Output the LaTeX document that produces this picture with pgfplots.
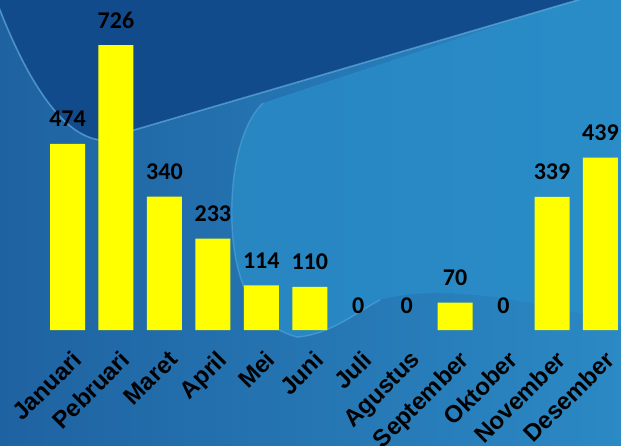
\documentclass[border=0pt]{standalone}
\usepackage{pgfplots}
\pgfplotsset{compat=1.18}
\usepackage{fontspec}
\setmainfont{Liberation Sans}
\newfontfamily\calib{Carlito}

\definecolor{bgleft}{HTML}{1F62A1}
\definecolor{bgright}{HTML}{2B89C4}
\definecolor{darkreg}{HTML}{124B8B}
\definecolor{winreg}{HTML}{2A8FCA}
\definecolor{glow}{HTML}{6DB9E8}
\definecolor{baryellow}{HTML}{FFFF00}

\begin{document}
\begin{tikzpicture}[x=1pt,y=1pt]
\begin{scope}
\clip (0,0) rectangle (621,445);
% background
\shade[left color=bgleft, right color=bgright] (0,0) rectangle (621,445);
% lighter window
\fill[winreg, opacity=0.7] (263,342) .. controls (240,320) and (230,270) .. (232,220)
    .. controls (234,170) and (250,120) .. (297,108)
    .. controls (330,110) and (360,135) .. (380,145)
    .. controls (430,160) and (520,150) .. (621,120) -- (621,450) -- (590,450) -- cycle;
% dark top-left region
\fill[darkreg] (-2,440) .. controls (25,370) and (60,310) .. (100,305) -- (595,450) -- (-2,450) -- cycle;
% light edges
\draw[glow, opacity=0.6, line width=1.6pt] (-2,440) .. controls (25,370) and (60,310) .. (100,305) -- (595,450);
\draw[glow, opacity=0.4, line width=1.4pt] (263,342) .. controls (240,320) and (230,270) .. (232,220)
    .. controls (234,170) and (250,120) .. (297,108)
    .. controls (330,110) and (360,135) .. (380,145);
\end{scope}
\useasboundingbox (0,0) rectangle (621,445);
\begin{axis}[
    at={(43.3pt,115pt)}, anchor=south west,
    scale only axis,
    width=581.4pt, height=314pt,
    xmin=-0.5, xmax=11.5, ymin=0, ymax=800,
    enlargelimits=false,
    ybar, bar width=35pt, bar shift=0pt,
    axis y line=none,
    axis x line=bottom,
    x axis line style={draw=none},
    major tick length=0pt,
    xtick={0,...,11},
    xticklabels={Januari,Pebruari,Maret,April,Mei,Juni,Juli,Agustus,September,Oktober,November,Desember},
    xticklabel style={xshift=3pt, yshift=-19pt, rotate=45, anchor=north east, inner sep=0pt,
        font=\bfseries\fontsize{24}{24}\selectfont, text=black},
    nodes near coords,
    nodes near coords style={anchor=base, yshift=17pt, inner sep=0pt,
        font=\calib\bfseries\fontsize{24}{24}\selectfont, text=black,
        /pgf/number format/assume math mode=true},
    clip=false,
]
% months with a bar
\addplot[fill=baryellow, draw=none] coordinates {
    (0,474) (1,726) (2,340) (3,233) (4,114) (5,110)
    (8,70) (10,339) (11,439)};
% months with zero
\addplot[fill=none, draw=none] coordinates {(6,0) (7,0) (9,0)};
\end{axis}
\end{tikzpicture}
\end{document}
